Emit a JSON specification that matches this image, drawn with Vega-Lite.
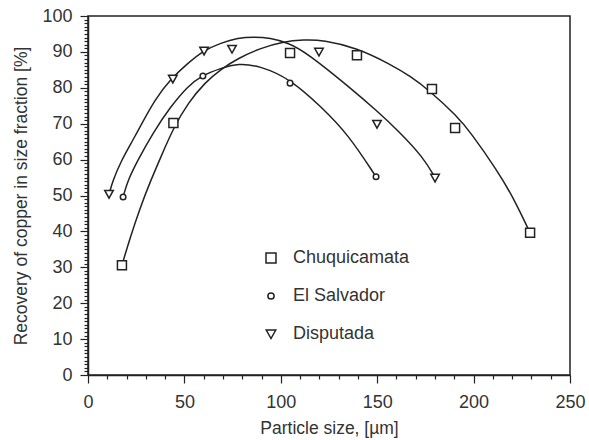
{
  "$schema": "https://vega.github.io/schema/vega-lite/v6.json",
  "width": 482,
  "height": 359,
  "autosize": "none",
  "padding": {"left": 88, "top": 16, "right": 19, "bottom": 65},
  "background": "white",
  "config": {
    "view": {"stroke": "#222", "strokeWidth": 1.5},
    "font": "Liberation Sans",
    "axis": {
      "domainColor": "#222",
      "domainWidth": 1.5,
      "tickColor": "#222",
      "tickWidth": 1.2,
      "grid": false,
      "labelFont": "Liberation Sans",
      "labelFontSize": 18,
      "labelColor": "#333",
      "titleFont": "Liberation Sans",
      "titleFontSize": 17.5,
      "titleFontWeight": "normal",
      "titleColor": "#333"
    },
    "legend": {
      "labelFont": "Liberation Sans",
      "labelFontSize": 18,
      "labelColor": "#333"
    }
  },
  "datasets": {
    "points": [
      {"series": "Chuquicamata", "size": 17.6, "recovery": 30.6},
      {"series": "Chuquicamata", "size": 44.3, "recovery": 70.2},
      {"series": "Chuquicamata", "size": 104.8, "recovery": 89.7},
      {"series": "Chuquicamata", "size": 139.5, "recovery": 89.1},
      {"series": "Chuquicamata", "size": 178.4, "recovery": 79.7},
      {"series": "Chuquicamata", "size": 190.4, "recovery": 68.8},
      {"series": "Chuquicamata", "size": 229.3, "recovery": 39.6},
      {"series": "El Salvador", "size": 18.2, "recovery": 49.6},
      {"series": "El Salvador", "size": 59.6, "recovery": 83.3},
      {"series": "El Salvador", "size": 104.8, "recovery": 81.3},
      {"series": "El Salvador", "size": 149.4, "recovery": 55.2},
      {"series": "Disputada", "size": 10.9, "recovery": 50.4},
      {"series": "Disputada", "size": 44.0, "recovery": 82.5},
      {"series": "Disputada", "size": 60.2, "recovery": 90.3},
      {"series": "Disputada", "size": 74.7, "recovery": 90.8},
      {"series": "Disputada", "size": 119.8, "recovery": 90.0},
      {"series": "Disputada", "size": 149.9, "recovery": 69.9},
      {"series": "Disputada", "size": 180.0, "recovery": 54.9}
    ],
    "curves": [
      {"series": "Chuquicamata", "size": 17.6, "recovery": 30.6},
      {"series": "Chuquicamata", "size": 22.0, "recovery": 38.5},
      {"series": "Chuquicamata", "size": 27.0, "recovery": 46.5},
      {"series": "Chuquicamata", "size": 32.0, "recovery": 53.5},
      {"series": "Chuquicamata", "size": 38.0, "recovery": 61.0},
      {"series": "Chuquicamata", "size": 44.3, "recovery": 68.8},
      {"series": "Chuquicamata", "size": 51.9, "recovery": 75.8},
      {"series": "Chuquicamata", "size": 60.7, "recovery": 81.5},
      {"series": "Chuquicamata", "size": 69.0, "recovery": 85.2},
      {"series": "Chuquicamata", "size": 77.8, "recovery": 88.2},
      {"series": "Chuquicamata", "size": 89.2, "recovery": 91.0},
      {"series": "Chuquicamata", "size": 101.0, "recovery": 92.8},
      {"series": "Chuquicamata", "size": 112.0, "recovery": 93.4},
      {"series": "Chuquicamata", "size": 121.9, "recovery": 93.3},
      {"series": "Chuquicamata", "size": 139.5, "recovery": 91.1},
      {"series": "Chuquicamata", "size": 156.6, "recovery": 86.6},
      {"series": "Chuquicamata", "size": 167.0, "recovery": 83.3},
      {"series": "Chuquicamata", "size": 177.4, "recovery": 79.1},
      {"series": "Chuquicamata", "size": 191.4, "recovery": 72.1},
      {"series": "Chuquicamata", "size": 198.1, "recovery": 67.8},
      {"series": "Chuquicamata", "size": 212.1, "recovery": 57.1},
      {"series": "Chuquicamata", "size": 220.4, "recovery": 49.6},
      {"series": "Chuquicamata", "size": 229.3, "recovery": 39.6},
      {"series": "El Salvador", "size": 18.2, "recovery": 49.6},
      {"series": "El Salvador", "size": 20.7, "recovery": 54.3},
      {"series": "El Salvador", "size": 25.9, "recovery": 59.9},
      {"series": "El Salvador", "size": 33.5, "recovery": 67.3},
      {"series": "El Salvador", "size": 43.0, "recovery": 74.9},
      {"series": "El Salvador", "size": 51.9, "recovery": 80.5},
      {"series": "El Salvador", "size": 58.6, "recovery": 83.3},
      {"series": "El Salvador", "size": 69.0, "recovery": 85.5},
      {"series": "El Salvador", "size": 78.0, "recovery": 86.8},
      {"series": "El Salvador", "size": 89.2, "recovery": 86.1},
      {"series": "El Salvador", "size": 104.8, "recovery": 82.5},
      {"series": "El Salvador", "size": 120.8, "recovery": 74.8},
      {"series": "El Salvador", "size": 135.0, "recovery": 67.0},
      {"series": "El Salvador", "size": 149.4, "recovery": 55.2},
      {"series": "Disputada", "size": 10.9, "recovery": 50.4},
      {"series": "Disputada", "size": 13.0, "recovery": 54.3},
      {"series": "Disputada", "size": 17.1, "recovery": 59.5},
      {"series": "Disputada", "size": 22.3, "recovery": 64.5},
      {"series": "Disputada", "size": 25.5, "recovery": 67.6},
      {"series": "Disputada", "size": 34.8, "recovery": 76.9},
      {"series": "Disputada", "size": 43.0, "recovery": 82.5},
      {"series": "Disputada", "size": 51.9, "recovery": 86.9},
      {"series": "Disputada", "size": 59.6, "recovery": 90.3},
      {"series": "Disputada", "size": 69.0, "recovery": 92.5},
      {"series": "Disputada", "size": 77.8, "recovery": 93.9},
      {"series": "Disputada", "size": 86.0, "recovery": 94.2},
      {"series": "Disputada", "size": 94.4, "recovery": 93.9},
      {"series": "Disputada", "size": 104.0, "recovery": 92.5},
      {"series": "Disputada", "size": 113.6, "recovery": 89.7},
      {"series": "Disputada", "size": 136.0, "recovery": 80.0},
      {"series": "Disputada", "size": 150.0, "recovery": 73.5},
      {"series": "Disputada", "size": 161.0, "recovery": 68.0},
      {"series": "Disputada", "size": 173.8, "recovery": 60.7},
      {"series": "Disputada", "size": 180.0, "recovery": 55.0}
    ]
  },
  "encoding": {
    "x": {
      "field": "size",
      "type": "quantitative",
      "scale": {"domain": [0, 250], "nice": false, "zero": false},
      "axis": {
        "title": "Particle size,  [µm]",
        "values": [0, 10, 20, 30, 40, 50, 60, 70, 80, 90, 100, 110, 120, 130, 140, 150, 160, 170, 180, 190, 200, 210, 220, 230, 240, 250],
        "labelExpr": "datum.value % 50 === 0 ? datum.label : ''",
        "tickSize": {"condition": {"test": "datum.value % 50 === 0", "value": 8}, "value": 4},
        "labelPadding": 10,
        "titlePadding": 8,
        "labelFlush": false
      }
    },
    "y": {
      "field": "recovery",
      "type": "quantitative",
      "scale": {"domain": [0, 100], "nice": false},
      "axis": {
        "title": "Recovery of copper in size fraction [%]",
        "values": [0, 1, 2, 3, 4, 5, 6, 7, 8, 9, 10, 11, 12, 13, 14, 15, 16, 17, 18, 19, 20, 21, 22, 23, 24, 25, 26, 27, 28, 29, 30, 31, 32, 33, 34, 35, 36, 37, 38, 39, 40, 41, 42, 43, 44, 45, 46, 47, 48, 49, 50, 51, 52, 53, 54, 55, 56, 57, 58, 59, 60, 61, 62, 63, 64, 65, 66, 67, 68, 69, 70, 71, 72, 73, 74, 75, 76, 77, 78, 79, 80, 81, 82, 83, 84, 85, 86, 87, 88, 89, 90, 91, 92, 93, 94, 95, 96, 97, 98, 99, 100],
        "labelExpr": "datum.value % 10 === 0 ? datum.label : ''",
        "tickSize": {"condition": {"test": "datum.value % 10 === 0", "value": 8}, "value": 4},
        "labelPadding": 8,
        "titlePadding": 11,
        "labelFlush": false
      }
    }
  },
  "layer": [
    {
      "data": {"name": "curves"},
      "mark": {"type": "line", "interpolate": "basis", "color": "#222", "strokeWidth": 1.5},
      "encoding": {"detail": {"field": "series"}}
    },
    {
      "data": {"name": "points"},
      "mark": {"type": "point", "filled": false, "color": "#222", "fill": "white", "fillOpacity": 1, "strokeWidth": 1.5, "size": 81},
      "encoding": {
        "shape": {
          "field": "series",
          "type": "nominal",
          "sort": ["Chuquicamata", "El Salvador", "Disputada"],
          "scale": {
            "domain": ["Chuquicamata", "El Salvador", "Disputada"],
            "range": [
              "M-1,-1L1,-1L1,1L-1,1Z",
              "M0,-0.62A0.62,0.62 0 1,1 0,0.62A0.62,0.62 0 1,1 0,-0.62Z",
              "M-0.95,-0.8L0.95,-0.8L0,0.9Z"
            ]
          },
          "legend": {
            "title": null,
            "orient": "none",
            "legendX": 174,
            "legendY": 233,
            "padding": 0,
            "labelFontSize": 18,
            "labelOffset": 13,
            "rowPadding": 20
          }
        }
      }
    }
  ]
}
